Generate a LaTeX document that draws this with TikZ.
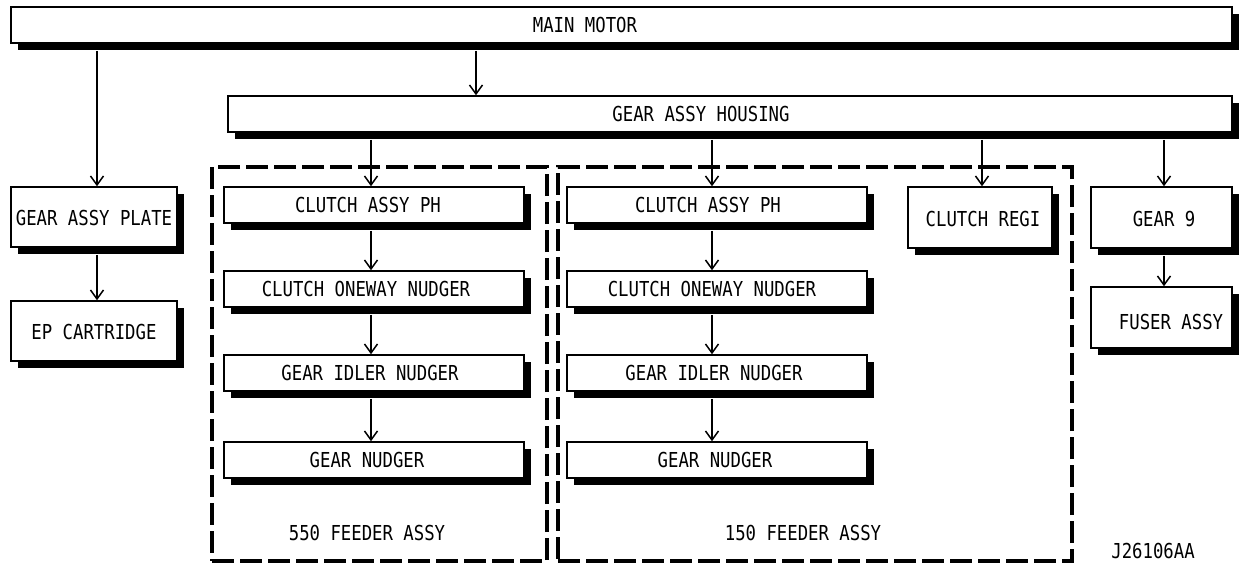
\documentclass[tikz,border=0pt]{standalone}
\usepackage{fontspec}
\setmainfont[FakeStretch=0.84]{DejaVu Sans Mono}
\usetikzlibrary{arrows.meta,shadows}
\begin{document}
\begin{tikzpicture}[x=0.5pt,y=-0.5pt,
  font=\fontsize{10.3}{12}\selectfont,
  box/.style={draw=black,line width=0.75pt,fill=white,inner sep=0pt,
    drop shadow={shadow xshift=3.5pt,shadow yshift=-3.5pt,fill=black,opacity=1}},
  txt/.style={inner sep=0pt,anchor=center},
  arr/.style={line width=0.75pt,-{Straight Barb[length=4.5pt,width=6.5pt,line width=0.75pt]}},
  group/.style={draw=black,line width=2pt,dash pattern=on 11pt off 3pt,inner sep=0pt}]
\useasboundingbox (0,0) rectangle (1239,564);
% groups
\node[group,minimum width=167.5pt,minimum height=197pt] (g550) at (379.5,364) {};
\node[group,minimum width=257pt,minimum height=197pt] (g150) at (815,364) {};
% boxes
\node[box,minimum width=610.5pt,minimum height=18pt] (main) at (621.5,25) {};
\node[box,minimum width=502pt,minimum height=18pt] (housing) at (730,114) {};
\node[box,minimum width=83pt,minimum height=30pt] (plate) at (94,217) {};
\node[box,minimum width=83pt,minimum height=30pt] (ep) at (94,331) {};
\node[box,minimum width=150pt,minimum height=18pt] (L1) at (374,205) {};
\node[box,minimum width=150pt,minimum height=18pt] (L2) at (374,289) {};
\node[box,minimum width=150pt,minimum height=18pt] (L3) at (374,373) {};
\node[box,minimum width=150pt,minimum height=18pt] (L4) at (374,460) {};
\node[box,minimum width=150pt,minimum height=18pt] (R1) at (717,205) {};
\node[box,minimum width=150pt,minimum height=18pt] (R2) at (717,289) {};
\node[box,minimum width=150pt,minimum height=18pt] (R3) at (717,373) {};
\node[box,minimum width=150pt,minimum height=18pt] (R4) at (717,460) {};
\node[box,minimum width=72pt,minimum height=30.5pt] (regi) at (980,217.5) {};
\node[box,minimum width=70.5pt,minimum height=30.5pt] (gear9) at (1161.5,217.5) {};
\node[box,minimum width=70.5pt,minimum height=30.5pt] (fuser) at (1161.5,317.5) {};
% texts
\node[txt] (tmain) at (585,25) {MAIN MOTOR};
\node[txt] (thousing) at (701,114) {GEAR ASSY HOUSING};
\node[txt] (tplate) at (94,218) {GEAR ASSY PLATE};
\node[txt] (tep) at (94,332) {EP CARTRIDGE};
\node[txt] (tL1) at (368,205) {CLUTCH ASSY PH};
\node[txt] (tL2) at (366,289) {CLUTCH ONEWAY NUDGER};
\node[txt] (tL3) at (370,373) {GEAR IDLER NUDGER};
\node[txt] (tL4) at (367,460) {GEAR NUDGER};
\node[txt] (t550) at (367,533) {550 FEEDER ASSY};
\node[txt] (tR1) at (708,205) {CLUTCH ASSY PH};
\node[txt] (tR2) at (712,289) {CLUTCH ONEWAY NUDGER};
\node[txt] (tR3) at (714,373) {GEAR IDLER NUDGER};
\node[txt] (tR4) at (715,460) {GEAR NUDGER};
\node[txt] (t150) at (803,533) {150 FEEDER ASSY};
\node[txt] (tregi) at (983,219) {CLUTCH REGI};
\node[txt] (tgear9) at (1164,219) {GEAR 9};
\node[txt] (tfuser) at (1171,322) {FUSER ASSY};
\node[txt] (tid) at (1153,551) {J26106AA};
% arrow columns
\coordinate (cp) at (97,0);
\coordinate (ch) at (476,0);
\coordinate (cl) at (371,0);
\coordinate (cr) at (712,0);
\coordinate (cg) at (982,0);
\coordinate (c9) at (1164,0);
% arrows
\draw[arr] ([yshift=-3.5pt]main.south -| cp) -- (plate.north -| cp);
\draw[arr] ([yshift=-3.5pt]main.south -| ch) -- (housing.north -| ch);
\draw[arr] ([yshift=-3.5pt]plate.south -| cp) -- (ep.north -| cp);
\draw[arr] ([yshift=-3.5pt]housing.south -| cl) -- (L1.north -| cl);
\draw[arr] ([yshift=-3.5pt]housing.south -| cr) -- (R1.north -| cr);
\draw[arr] ([yshift=-3.5pt]housing.south -| cg) -- (regi.north -| cg);
\draw[arr] ([yshift=-3.5pt]housing.south -| c9) -- (gear9.north -| c9);
\draw[arr] ([yshift=-3.5pt]gear9.south -| c9) -- (fuser.north -| c9);
\draw[arr] ([yshift=-3.5pt]L1.south -| cl) -- (L2.north -| cl);
\draw[arr] ([yshift=-3.5pt]L2.south -| cl) -- (L3.north -| cl);
\draw[arr] ([yshift=-3.5pt]L3.south -| cl) -- (L4.north -| cl);
\draw[arr] ([yshift=-3.5pt]R1.south -| cr) -- (R2.north -| cr);
\draw[arr] ([yshift=-3.5pt]R2.south -| cr) -- (R3.north -| cr);
\draw[arr] ([yshift=-3.5pt]R3.south -| cr) -- (R4.north -| cr);
\end{tikzpicture}
\end{document}
